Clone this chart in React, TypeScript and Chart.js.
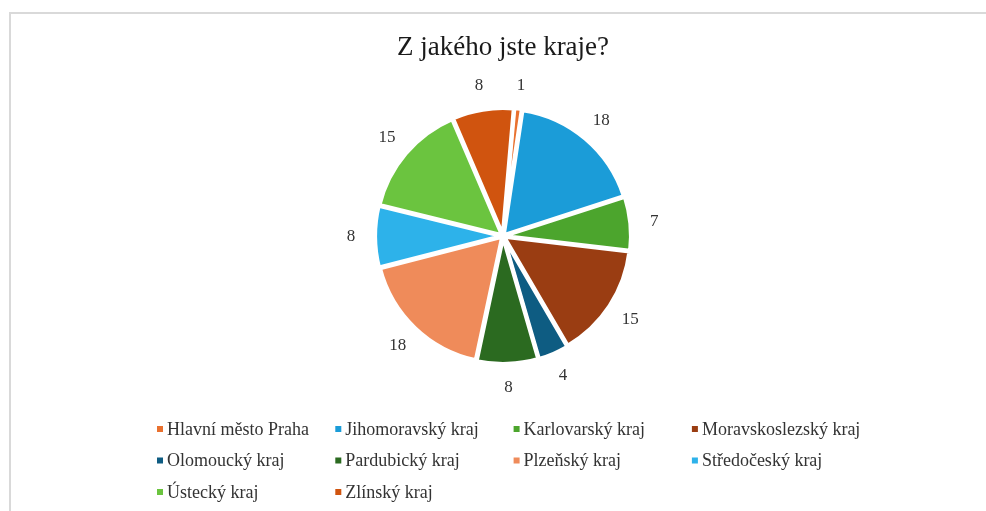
import React, { useEffect, useRef } from "react";
import { Chart, registerables } from "chart.js";

Chart.register(...registerables);

const titleText = "Z jakého jste kraje?";
const categories = [
  "Hlavní město Praha",
  "Jihomoravský kraj",
  "Karlovarský kraj",
  "Moravskoslezský kraj",
  "Olomoucký kraj",
  "Pardubický kraj",
  "Plzeňský kraj",
  "Středočeský kraj",
  "Ústecký kraj",
  "Zlínský kraj",
];
const values = [1, 18, 7, 15, 4, 8, 18, 8, 15, 8];
const colors = [
  "#E9712F",
  "#1B9CD8",
  "#4CA52D",
  "#9A3D12",
  "#0E5C82",
  "#2B6A20",
  "#EF8B5A",
  "#2DB2EA",
  "#6BC43F",
  "#D0540F",
];

const FONT = '"Liberation Serif", "Times New Roman", serif';

const overlayPlugin = {
  id: "overlay",
  afterDraw(chart: any) {
    const ctx: CanvasRenderingContext2D = chart.ctx;
    ctx.save();
    // title
    ctx.fillStyle = "#1a1a1a";
    ctx.font = `27px ${FONT}`;
    ctx.textAlign = "center";
    ctx.textBaseline = "alphabetic";
    ctx.fillText(titleText, 503, 55);

    // data labels
    const meta = chart.getDatasetMeta(0);
    const ds = chart.data.datasets[0];
    ctx.font = `17px ${FONT}`;
    ctx.fillStyle = "#333333";
    ctx.textBaseline = "middle";
    meta.data.forEach((arc: any, i: number) => {
      const p = arc.getProps(["x", "y", "startAngle", "endAngle", "outerRadius"], true);
      const mid = (p.startAngle + p.endAngle) / 2;
      const r = p.outerRadius + 5 + 21;
      ctx.fillText(String(ds.data[i]), p.x + Math.cos(mid) * r, p.y + Math.sin(mid) * r);
    });

    // legend (grid, 4 columns)
    const labels: string[] = chart.data.labels;
    const colX0 = 157;
    const colW = 178.3;
    const rowY0 = 429;
    const rowH = 31.5;
    ctx.textAlign = "left";
    ctx.font = `18px ${FONT}`;
    labels.forEach((lab, i) => {
      const col = i % 4;
      const row = Math.floor(i / 4);
      const x = colX0 + col * colW;
      const y = rowY0 + row * rowH;
      ctx.fillStyle = (ds.backgroundColor as string[])[i];
      ctx.fillRect(x, y - 3, 6, 6);
      ctx.fillStyle = "#333333";
      ctx.fillText(lab, x + 10, y + 1);
    });
    ctx.restore();
  },
};

export default function App() {
  const canvasRef = useRef<HTMLCanvasElement | null>(null);

  useEffect(() => {
    if (!canvasRef.current) return;
    const chart = new Chart(canvasRef.current, {
      type: "pie",
      data: {
        labels: categories,
        datasets: [
          {
            data: values,
            backgroundColor: colors,
            borderColor: "#ffffff",
            borderWidth: 4,
            offset: 5,
          },
        ],
      },
      options: {
        animation: false,
        responsive: true,
        maintainAspectRatio: false,
        rotation: 5,
        radius: 126,
        layout: { padding: { left: 100, right: 80, top: 100, bottom: 139 } },
        plugins: {
          legend: { display: false },
          title: { display: false },
          tooltip: { enabled: false },
        },
      },
      plugins: [overlayPlugin],
    } as any);
    return () => chart.destroy();
  }, []);

  return (
    <div
      style={{
        position: "absolute",
        left: 0,
        top: 0,
        width: 986,
        height: 511,
        background: "#ffffff",
        overflow: "hidden",
      }}
    >
      <div
        style={{
          position: "absolute",
          left: 9,
          top: 12,
          width: 990,
          height: 510,
          borderTop: "2px solid #d9d9d9",
          borderLeft: "2px solid #d9d9d9",
          boxSizing: "border-box",
        }}
      />
      <canvas
        ref={canvasRef}
        style={{ position: "absolute", left: 0, top: 0, width: 986, height: 511 }}
      />
    </div>
  );
}
